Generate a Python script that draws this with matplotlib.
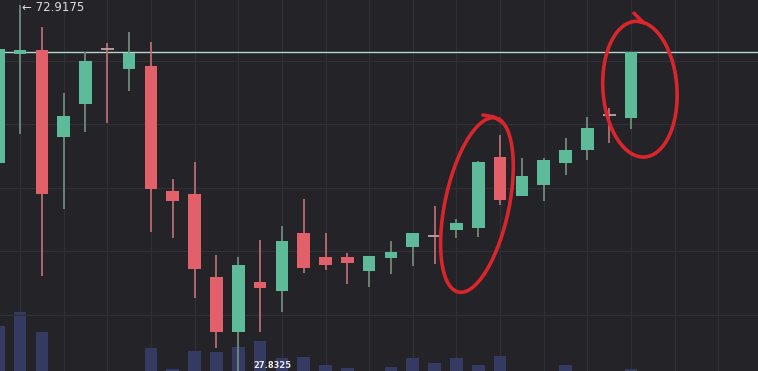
"""Candlestick chart with volume and hand-drawn highlight rings."""

import matplotlib

matplotlib.use("Agg")

import matplotlib.pyplot as plt
import numpy as np
from matplotlib.ticker import MultipleLocator
from matplotlib.transforms import ScaledTranslation

# OHLC per bar (index 0 is the partly cut bar at the left edge)
opens = [72.8677, 72.9021, 72.9033, 72.8759, 72.8863, 72.9036, 72.8973, 72.8983,
         72.8589, 72.8580, 72.8318, 72.8145, 72.8302, 72.8274, 72.8457, 72.8381,
         72.8381, 72.8337, 72.8378, 72.8413, 72.8447, 72.8466, 72.8473, 72.8696,
         72.8573, 72.8608, 72.8677, 72.8718, 72.8829, 72.8819]
highs = [72.9043, 72.9175, 72.9106, 72.8898, 72.9027, 72.9055, 72.9090, 72.9058,
         72.8627, 72.8680, 72.8388, 72.8381, 72.8435, 72.8479, 72.8564, 72.8457,
         72.8394, 72.8384, 72.8431, 72.8457, 72.8542, 72.8501, 72.8684, 72.8766,
         72.8693, 72.8693, 72.8756, 72.8822, 72.8851, 72.9027]
lows = [72.8668, 72.8769, 72.8321, 72.8532, 72.8775, 72.8803, 72.8904, 72.8460,
        72.8441, 72.8252, 72.8095, 72.8019, 72.8145, 72.8208, 72.8331, 72.8340,
        72.8296, 72.8287, 72.8328, 72.8353, 72.8359, 72.8441, 72.8444, 72.8545,
        72.8573, 72.8558, 72.8640, 72.8687, 72.8740, 72.8784]
closes = [72.9036, 72.9033, 72.8580, 72.8825, 72.8999, 72.9036, 72.9024, 72.8595,
          72.8558, 72.8343, 72.8145, 72.8356, 72.8284, 72.8432, 72.8347, 72.8356,
          72.8362, 72.8384, 72.8397, 72.8457, 72.8447, 72.8488, 72.8680, 72.8561,
          72.8636, 72.8687, 72.8718, 72.8788, 72.8829, 72.9027]
volumes = [85, 99, 79, 30, 25, 20, 28, 63, 42, 60, 59, 64, 70, 53, 54, 46,
           43, 30, 44, 53, 48, 53, 46, 55, 32, 35, 46, 30, 25, 42]

last_price = 72.9027
high_label = "← 72.9175"
bottom_label = "27.8325"

# highlight rings: (bar index, price, width in, height in, tilt deg)
rings = [(21.94, 72.8545, 0.64, 1.78, -12), (29.41, 72.8910, 0.74, 1.36, 4)]

BG = "#232328"
GRID = "#2f2f36"
UP = "#5dbb9a"
DOWN = "#e2606a"
UP_WICK = "#71897f"
DOWN_WICK = "#b86d74"
DOJI = "#b79a9c"
VOL = "#343a62"
RING = "#d8262c"

fig = plt.figure(figsize=(7.58, 3.71), dpi=100, facecolor=BG)
ax_vol = fig.add_axes([0, 0, 1, 1])
ax = ax_vol.twinx()
ax.set_zorder(ax_vol.get_zorder() + 1)
ax.patch.set_visible(False)
ax_vol.set_facecolor(BG)

o = np.array(opens)
h = np.array(highs)
l = np.array(lows)
c = np.array(closes)
idx = np.arange(len(o))
up = c > o
down = c < o
flat = c == o
body_w = 0.58

# volume underneath
ax_vol.bar(idx, volumes, width=body_w, color=VOL, zorder=2)
ax_vol.set_ylim(40, 411)

# grid
ax_vol.xaxis.set_major_locator(MultipleLocator(2, offset=1))
ax_vol.grid(axis="x", color=GRID, lw=0.9, zorder=0)
ax.yaxis.set_major_locator(MultipleLocator(0.02))
ax.grid(axis="y", color=GRID, lw=0.9, zorder=0)

ax.axhline(last_price, color="#b5d6cc", lw=1.0, zorder=1)

ax.vlines(idx[up], l[up], h[up], color=UP_WICK, lw=1.3, zorder=3)
ax.vlines(idx[down], l[down], h[down], color=DOWN_WICK, lw=1.3, zorder=3)
ax.vlines(idx[flat], l[flat], h[flat], color=DOWN_WICK, lw=1.3, zorder=3)
ax.bar(idx[up], c[up] - o[up], bottom=o[up], width=body_w, color=UP, zorder=4)
ax.bar(idx[down], c[down] - o[down], bottom=o[down], width=body_w, color=DOWN, zorder=4)
ax.hlines(o[flat], idx[flat] - body_w / 2, idx[flat] + body_w / 2, color=DOJI, lw=1.4, zorder=4)

ax.set_xlim(0.083, 34.82)
ax.set_ylim(72.8022, 72.9191)
for a in (ax, ax_vol):
    a.tick_params(left=False, right=False, bottom=False, labelleft=False,
                  labelright=False, labelbottom=False)
    for s in a.spines.values():
        s.set_visible(False)

ax.annotate(high_label, xy=(1, max(highs)), xytext=(1.5, -4.2), textcoords="offset points",
            ha="left", va="baseline", color="#dcdcdc", fontsize=8.5, zorder=6)
ax.text(11.68, 0.004, bottom_label, transform=ax.get_xaxis_transform(), ha="left",
        va="bottom", color="#e8e8e8", fontsize=6, fontweight="bold", zorder=6)

# hand-drawn style rings around the highlighted bars
t = np.radians(np.linspace(78, 445, 200))
for cx, cy, w, ht, tilt in rings:
    tr = fig.dpi_scale_trans + ScaledTranslation(cx, cy, ax.transData)
    a = np.radians(tilt)
    ex = w / 2 * np.cos(t)
    ey = ht / 2 * np.sin(t)
    ax.plot(ex * np.cos(a) - ey * np.sin(a), ex * np.sin(a) + ey * np.cos(a),
            transform=tr, color=RING, lw=2.6, solid_capstyle="round", zorder=7, clip_on=False)

tr1 = fig.dpi_scale_trans + ScaledTranslation(rings[0][0], rings[0][1], ax.transData)
ax.plot([0.25, 0.17, 0.06], [0.83, 0.88, 0.90], transform=tr1, color=RING,
        lw=2.6, solid_capstyle="round", zorder=7)
tr2 = fig.dpi_scale_trans + ScaledTranslation(rings[1][0], rings[1][1], ax.transData)
ax.plot([0.04, -0.02, -0.06], [0.66, 0.72, 0.76], transform=tr2, color=RING,
        lw=2.6, solid_capstyle="round", zorder=7)

fig.savefig("out.png", dpi=100, facecolor=BG)
